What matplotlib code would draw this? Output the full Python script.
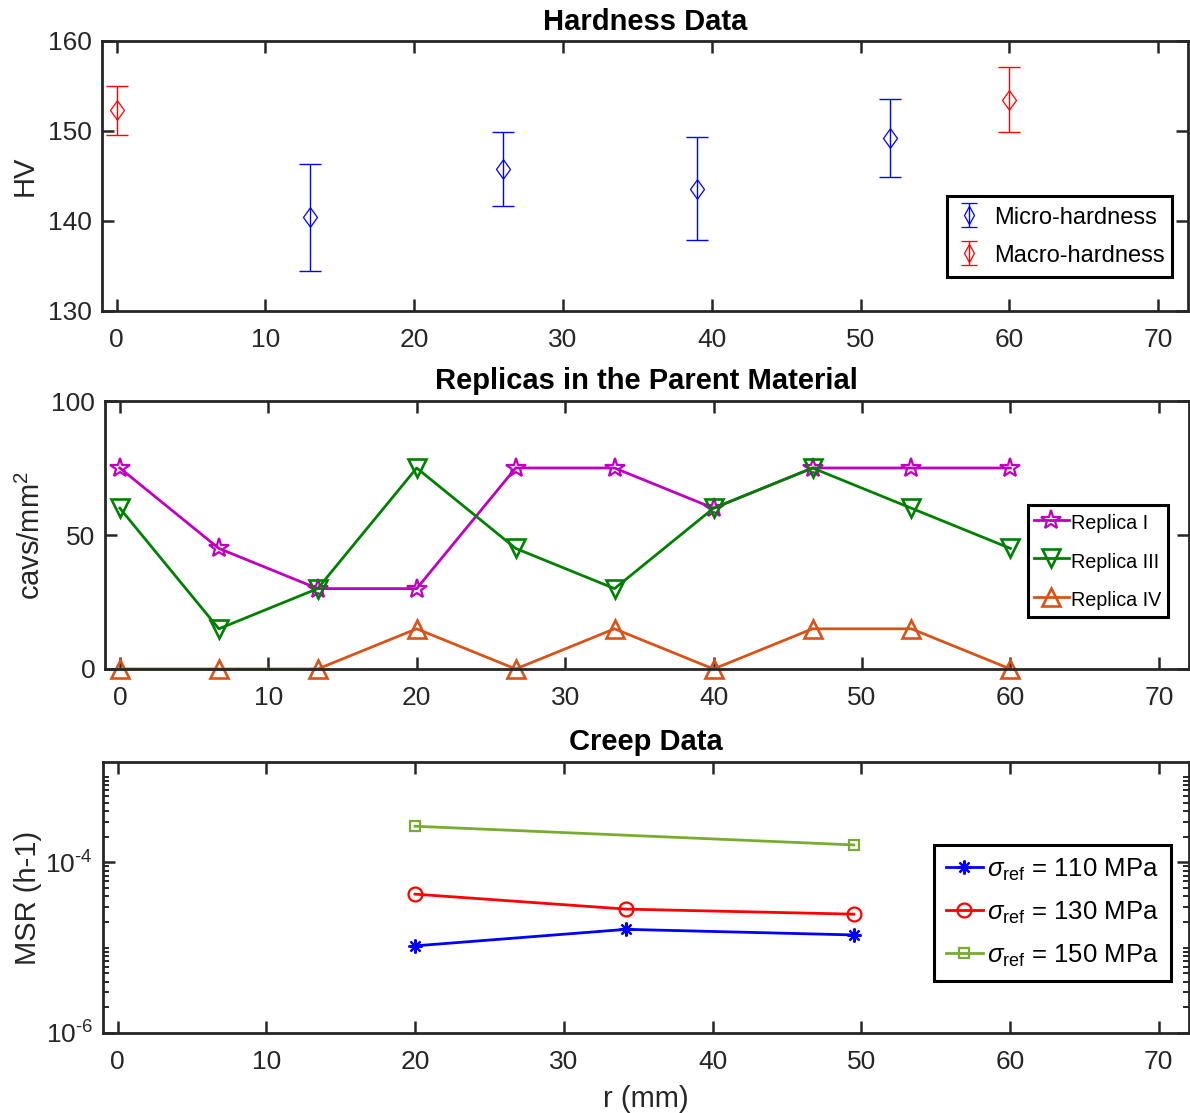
import numpy as np
import matplotlib
matplotlib.use('Agg')
import matplotlib.pyplot as plt
from matplotlib.ticker import FixedLocator, LogLocator, NullFormatter, FixedFormatter

plt.rcParams['font.family'] = ['Liberation Sans', 'DejaVu Sans']
plt.rcParams['mathtext.fontset'] = 'custom'
plt.rcParams['mathtext.rm'] = 'Liberation Sans'
plt.rcParams['mathtext.it'] = 'Liberation Sans:italic'
plt.rcParams['mathtext.bf'] = 'Liberation Sans:bold'

# ---------------- data ----------------
micro_r = [13, 26, 39, 52]
micro_hv = [140.4, 145.8, 143.6, 149.2]
micro_err = [5.9, 4.1, 5.75, 4.35]
macro_r = [0, 60]
macro_hv = [152.3, 153.5]
macro_err = [2.7, 3.65]

rep_r = [0, 6.67, 13.33, 20, 26.67, 33.33, 40, 46.67, 53.33, 60]
rep1 = [75, 45, 30, 30, 75, 75, 60, 75, 75, 75]
rep3 = [60, 15, 30, 75, 45, 30, 60, 75, 60, 45]
rep4 = [0, 0, 0, 15, 0, 15, 0, 15, 15, 0]

creep_r = [20, 34.2, 49.5]
msr110 = [1.05e-5, 1.64e-5, 1.41e-5]
msr130 = [4.24e-5, 2.83e-5, 2.47e-5]
creep_r150 = [20, 49.5]
msr150 = [2.65e-4, 1.6e-4]

x_ticks = [0, 10, 20, 30, 40, 50, 60, 70]
hv_ticks = [130, 140, 150, 160]
cav_ticks = [0, 50, 100]
log_ticks = [1e-6, 1e-4]
log_labels = ['$10^{\u2010 6}$', '$10^{\u2010 4}$']

AXC = '#262626'
W, H = 1190, 1113
TICK_FS = 19
LAB_FS = 21
TITLE_FS = 21

fig = plt.figure(figsize=(W / 100, H / 100), dpi=100)


def px_axes(left, right, top, bottom):
    return fig.add_axes([left / W, 1 - bottom / H, (right - left) / W, (bottom - top) / H])


def style(ax):
    for s in ax.spines.values():
        s.set_linewidth(2.0)
        s.set_color(AXC)
    ax.tick_params(which='major', direction='in', top=True, right=True, width=1.8,
                   length=8.5, labelsize=TICK_FS, colors=AXC, labelcolor=AXC)
    ax.tick_params(axis='x', pad=12)
    ax.tick_params(axis='y', pad=7)
    ax.set_xlim(-1, 72)
    ax.xaxis.set_major_locator(FixedLocator(x_ticks))


def legend_style(leg, lw=2.2):
    fr = leg.get_frame()
    fr.set_edgecolor('black')
    fr.set_linewidth(lw)
    fr.set_facecolor('white')
    fr.set_alpha(1)


diamond = [(0, 1), (0.72, 0), (0, -1), (-0.72, 0), (0, 1)]

# ---------------- top: hardness ----------------
ax1 = px_axes(101.7, 1188, 41, 311)
style(ax1)
ax1.errorbar(micro_r, micro_hv, yerr=micro_err, fmt='none', ecolor='blue',
             elinewidth=1.0, capsize=8, capthick=1.0)
ax1.errorbar(macro_r, macro_hv, yerr=macro_err, fmt='none', ecolor='red',
             elinewidth=1.0, capsize=8, capthick=1.0)
ax1.plot(micro_r, micro_hv, ls='none', marker=diamond, color='blue', mfc='none', ms=14, mew=0.9)
ax1.plot(macro_r, macro_hv, ls='none', marker=diamond, color='red', mfc='none', ms=14, mew=0.9)
ax1.set_ylim(130, 160)
ax1.yaxis.set_major_locator(FixedLocator(hv_ticks))
ax1.set_ylabel('HV', fontsize=LAB_FS, color=AXC)
ax1.yaxis.set_label_coords(-0.058, 0.5)
ax1.set_title('Hardness Data', fontsize=TITLE_FS, fontweight='bold', pad=8)
# legend proxies (errorbar with small diamond)
p_mi = ax1.errorbar([np.nan], [np.nan], yerr=[1], fmt='d', color='blue', mfc='none',
                    ms=9, mew=0.9, elinewidth=1.0, capsize=6, capthick=1.0)
p_ma = ax1.errorbar([np.nan], [np.nan], yerr=[1], fmt='d', color='red', mfc='none',
                    ms=9, mew=0.9, elinewidth=1.0, capsize=6, capthick=1.0)
leg1 = ax1.legend([p_mi, p_ma], ['Micro-hardness', 'Macro-hardness'],
                  loc='upper left', bbox_to_anchor=(0.778, 0.126, 0.2075, 0.3), mode='expand',
                  fontsize=17, fancybox=False, handlelength=1.0, handletextpad=0.6,
                  handleheight=0.9, borderpad=0.42, labelspacing=0.65, borderaxespad=0)
legend_style(leg1)

# ---------------- middle: replicas ----------------
ax2 = px_axes(105, 1188.5, 401, 669)
style(ax2)
ax2.plot(rep_r, rep1, '-', marker='*', color=(0.75, 0, 0.75), mfc='none', ms=15,
         mew=1.6, lw=2.0, label='Replica I', clip_on=False)
ax2.plot(rep_r, rep3, '-', marker='v', color=(0, 0.5, 0), mfc='none', ms=13,
         mew=1.9, lw=2.0, label='Replica III', clip_on=False)
ax2.plot(rep_r, rep4, '-', marker='^', color=(0.85, 0.325, 0.098), mfc='none', ms=13,
         mew=1.9, lw=2.0, label='Replica IV', clip_on=False)
ax2.set_ylim(0, 100)
ax2.yaxis.set_major_locator(FixedLocator(cav_ticks))
ax2.set_ylabel('cavs/mm$^2$', fontsize=LAB_FS, color=AXC)
ax2.yaxis.set_label_coords(-0.0545, 0.5)
ax2.set_title('Replicas in the Parent Material', fontsize=TITLE_FS, fontweight='bold', pad=9)
leg2 = ax2.legend(loc='upper left', bbox_to_anchor=(0.852, 0.312, 0.129, 0.3), mode='expand',
                  fontsize=14.2, fancybox=False, handlelength=1.75, handletextpad=0.1,
                  handleheight=1.5, borderpad=0.3, labelspacing=0.72, borderaxespad=0)
legend_style(leg2)

# ---------------- bottom: creep ----------------
ax3 = px_axes(102.7, 1188.5, 762, 1033)
style(ax3)
ax3.set_yscale('log')
ax3.plot(creep_r, msr110, '-', marker=(8, 2, 0), color='blue', ms=10, mew=1.6, lw=2.0,
         label=r'$\sigma_{\mathrm{ref}}$ = 110 MPa')
ax3.plot(creep_r, msr130, '-', marker='o', color='red', mfc='none', ms=10, mew=1.6, lw=2.0,
         label=r'$\sigma_{\mathrm{ref}}$ = 130 MPa')
ax3.plot(creep_r150, msr150, '-', marker='s', color=(0.467, 0.675, 0.188), mfc='none',
         ms=7, mew=1.6, lw=2.0, label=r'$\sigma_{\mathrm{ref}}$ = 150 MPa')
ax3.set_ylim(1e-6, 1.5e-3)
ax3.yaxis.set_major_locator(FixedLocator(log_ticks))
ax3.yaxis.set_major_formatter(FixedFormatter(log_labels))
ax3.yaxis.set_minor_locator(LogLocator(base=10, subs=np.arange(1, 10)))
ax3.yaxis.set_minor_formatter(NullFormatter())
ax3.tick_params(which='minor', direction='in', left=True, right=True, width=1.4,
                length=4.5, colors=AXC)
ax3.set_ylabel('MSR (h-1)', fontsize=LAB_FS, color=AXC)
ax3.yaxis.set_label_coords(-0.056, 0.5)
ax3.set_xlabel('r (mm)', fontsize=LAB_FS, color=AXC, labelpad=8)
ax3.set_title('Creep Data', fontsize=TITLE_FS, fontweight='bold', pad=9)
leg3 = ax3.legend(loc='upper left', bbox_to_anchor=(0.766, 0.394, 0.218, 0.3), mode='expand',
                  fontsize=18.5, fancybox=False, handlelength=1.44, handletextpad=0.15,
                  handleheight=1.0, borderpad=0.45, labelspacing=0.65, borderaxespad=0)
legend_style(leg3)

fig.savefig('out.png', dpi=100)
